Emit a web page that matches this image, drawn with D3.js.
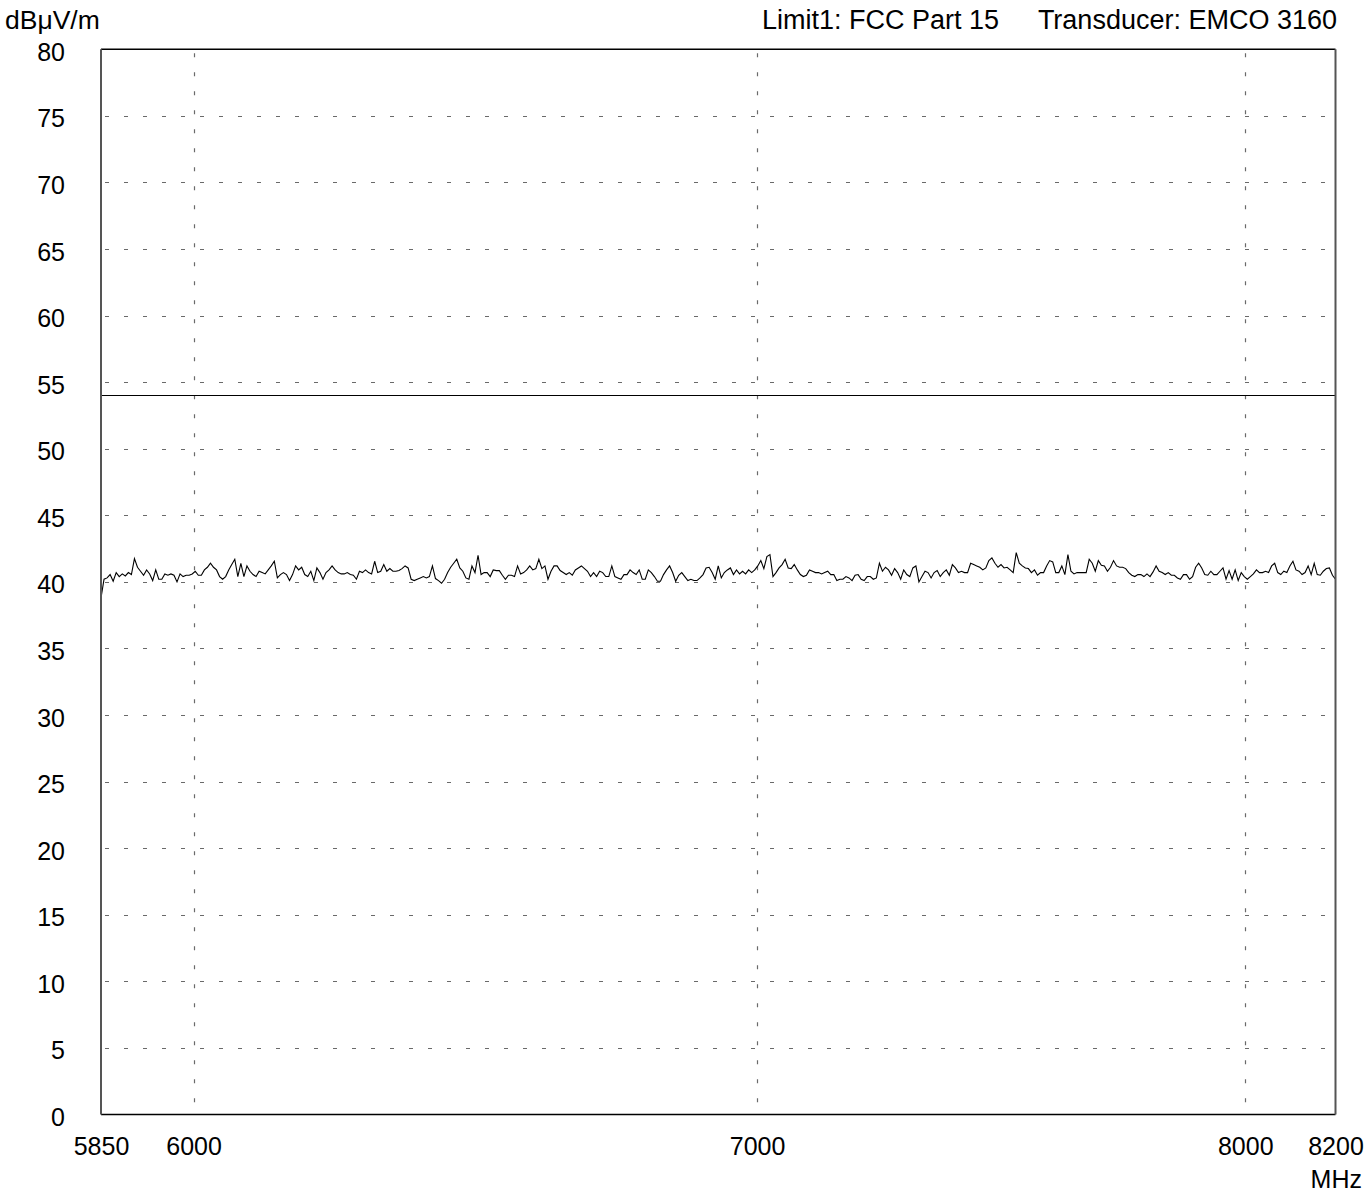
<!DOCTYPE html>
<html>
<head>
<meta charset="utf-8">
<script src="https://cdn.jsdelivr.net/npm/d3@7"></script>
<style>
  html, body { margin: 0; padding: 0; background: #fff; }
  svg { display: block; }
</style>
</head>
<body>
<svg id="chart" width="1366" height="1193"></svg>
<script>
// Radiated emission scan, 5850 - 8200 MHz, log frequency axis
const freqStart = 5850;
const freqStop = 8200;
const freqTicks = [5850, 6000, 7000, 8000, 8200];
const freqGrid = [6000, 7000, 8000];
const levelTicks = [0, 5, 10, 15, 20, 25, 30, 35, 40, 45, 50, 55, 60, 65, 70, 75, 80];
const levelGrid = [5, 10, 15, 20, 25, 30, 35, 40, 45, 50, 55, 60, 65, 70, 75];
const limitLevel = 54; // Limit1: FCC Part 15
const unitLabel = "dBμV/m";
const freqUnit = "MHz";
const headerLabels = ["Limit1: FCC Part 15", "Transducer: EMCO 3160"];

// Measured level (dBμV/m) at each sweep point, equally spaced on the log axis
const traceLevels = [
  38.8, 40.2, 40.3, 40.55, 40.05, 40.7, 40.4, 40.6, 40.45, 40.7,
  40.55, 41.75, 41.1, 40.8, 40.5, 40.9, 40.6, 40.1, 40.9, 40.2,
  40.2, 40.6, 40.5, 40.6, 40.5, 40.0, 40.6, 40.4, 40.5, 40.5,
  40.6, 40.8, 40.5, 40.5, 40.9, 41.1, 41.4, 41.1, 40.9, 40.4, 40.2,

  40.4, 40.9, 41.3, 41.7, 40.4, 41.4, 40.4, 41.2, 40.8, 40.55,
  40.4, 40.8, 40.7, 40.6, 40.9, 41.2, 41.55, 40.3, 40.55, 40.7,
  40.55, 40.1, 40.55, 41.2, 40.9, 41.1, 40.55, 40.4, 40.8, 40.1,
  41.05, 40.7, 40.2, 40.7, 40.9, 41.2, 40.9, 40.7, 40.6, 40.6, 40.7,

  40.55, 40.5, 40.2, 40.8, 40.7, 40.9, 40.7, 40.6, 41.55, 40.7,
  40.8, 41.3, 40.8, 41.0, 40.8, 40.8, 40.85, 41.0, 41.2, 41.05,
  40.2, 40.1, 40.2, 40.3, 40.4, 40.3, 40.4, 41.2, 40.25, 40.1,
  39.9, 40.2, 40.7, 41.1, 41.4, 41.7, 41.05, 40.8, 40.3, 40.2, 41.2,

  40.7, 42.0, 40.55, 40.7, 40.7, 40.4, 40.9, 40.85, 40.85, 40.5,
  40.2, 40.5, 40.5, 40.4, 41.2, 40.6, 40.7, 40.9, 41.2, 40.9,
  41.0, 41.7, 41.0, 41.2, 40.2, 40.8, 41.2, 41.2, 40.85, 40.7,
  40.55, 40.7, 40.5, 40.9, 41.05, 41.2, 41.0, 40.8, 40.4, 40.7, 40.4,

  40.8, 40.7, 40.4, 40.4, 41.2, 40.4, 40.3, 40.2, 40.55, 40.55,
  40.9, 40.7, 40.55, 40.9, 40.2, 40.2, 40.9, 40.7, 40.4, 40.05,
  40.05, 40.55, 40.9, 41.2, 40.7, 40.05, 40.5, 40.7, 40.4, 40.1,
  40.2, 40.1, 40.1, 40.3, 40.55, 41.05, 41.1, 40.7, 40.2, 41.2, 40.3,

  40.7, 40.9, 41.05, 40.55, 40.9, 40.6, 40.8, 40.6, 40.9, 40.7,
  40.9, 41.2, 41.6, 41.0, 41.9, 42.05, 40.4, 40.7, 41.05, 41.3,
  41.7, 41.05, 41.0, 41.3, 40.9, 40.55, 40.4, 40.5, 40.9, 40.8,
  40.7, 40.7, 40.6, 40.7, 40.8, 40.55, 40.55, 40.1, 40.2, 40.2, 40.4,

  40.3, 40.1, 40.5, 40.55, 40.2, 40.1, 40.4, 40.4, 40.2, 40.3,
  41.4, 40.8, 41.1, 40.9, 40.5, 41.0, 40.7, 40.2, 40.9, 40.55,
  40.4, 41.05, 41.2, 40.0, 40.4, 40.8, 40.7, 40.3, 40.7, 40.85,
  40.4, 40.7, 40.9, 40.5, 41.3, 41.05, 40.7, 40.8, 40.7, 40.7, 41.4,

  41.3, 41.2, 41.1, 40.9, 41.05, 41.6, 41.8, 41.4, 41.1, 41.3,
  41.05, 41.1, 40.9, 40.7, 42.2, 41.4, 41.2, 41.05, 41.0, 40.7,
  40.9, 40.5, 40.7, 40.7, 41.2, 41.6, 41.5, 40.7, 40.7, 41.2,
  40.55, 42.05, 40.8, 40.6, 40.7, 40.7, 40.7, 40.7, 41.7, 41.4, 40.8,

  41.6, 41.25, 41.2, 40.8, 41.1, 41.6, 41.2, 41.1, 41.1, 41.0,
  40.7, 40.5, 40.4, 40.55, 40.55, 40.4, 40.6, 40.4, 40.75, 41.2,
  40.8, 40.7, 40.55, 40.7, 40.5, 40.5, 40.3, 40.2, 40.55, 40.55,
  40.2, 40.4, 41.1, 41.4, 41.05, 40.55, 40.5, 40.8, 40.55, 40.55, 40.8,

  41.05, 40.2, 40.85, 40.2, 40.9, 40.1, 40.7, 40.4, 40.2, 40.4,
  40.6, 40.9, 40.7, 40.7, 40.8, 40.7, 41.2, 41.4, 40.7, 40.55,
  40.8, 40.7, 41.2, 41.55, 40.9, 40.8, 40.55, 40.7, 41.2, 40.55,
  41.4, 40.55, 40.5, 40.8, 41.0, 41.05, 40.5, 40.2
];

// sweep frequencies for the trace points (log-spaced sweep)
const sweepFreqs = d3.range(traceLevels.length).map(i =>
  freqStart * Math.pow(freqStop / freqStart, i / (traceLevels.length - 1)));

const FONT = "'Liberation Sans', Arial, Helvetica, sans-serif";
const plot = { left: 101, right: 1335.5, top: 49.3, bottom: 1114.5 };

const svg = d3.select("#chart");

const x = d3.scaleLog().domain([freqStart, freqStop]).range([plot.left, plot.right]);
const y = d3.scaleLinear().domain([0, 80]).range([plot.bottom, plot.top]);

// dotted grid
const grid = svg.append("g").attr("stroke", "#6a6a6a").attr("stroke-width", 1.2)
  .attr("stroke-dasharray", "4 15");
grid.selectAll("line.h").data(levelGrid).join("line").attr("class", "h")
  .attr("x1", plot.left + 4).attr("x2", plot.right)
  .attr("y1", d => Math.round(y(d)) + 0.5).attr("y2", d => Math.round(y(d)) + 0.5);
grid.selectAll("line.v").data(freqGrid).join("line").attr("class", "v")
  .attr("y1", plot.top + 4).attr("y2", plot.bottom)
  .attr("x1", d => Math.round(x(d)) + 0.5).attr("x2", d => Math.round(x(d)) + 0.5);

// limit line
svg.append("path")
  .datum([freqStart, freqStop])
  .attr("fill", "none").attr("stroke", "#000").attr("stroke-width", 1.2)
  .attr("d", d3.line().x(d => x(d)).y(() => Math.round(y(limitLevel)) + 0.5));

// measured trace
svg.append("path")
  .datum(traceLevels)
  .attr("fill", "none").attr("stroke", "#000").attr("stroke-width", 1.1)
  .attr("stroke-linejoin", "miter")
  .attr("d", d3.line().x((d, i) => x(sweepFreqs[i])).y(d => y(d)));

// frame
const frame = svg.append("g").attr("fill", "none");
frame.append("line").attr("x1", plot.left).attr("x2", plot.right)
  .attr("y1", plot.top).attr("y2", plot.top).attr("stroke", "#000").attr("stroke-width", 1.5);
frame.append("line").attr("x1", plot.left).attr("x2", plot.right)
  .attr("y1", plot.bottom).attr("y2", plot.bottom).attr("stroke", "#000").attr("stroke-width", 1.5);
frame.append("line").attr("x1", plot.left).attr("x2", plot.left)
  .attr("y1", plot.top).attr("y2", plot.bottom).attr("stroke", "#555").attr("stroke-width", 2);
frame.append("line").attr("x1", plot.right).attr("x2", plot.right)
  .attr("y1", plot.top).attr("y2", plot.bottom).attr("stroke", "#555").attr("stroke-width", 2);

// level axis labels
const gy = svg.append("g").attr("transform", "translate(65,0)")
  .call(d3.axisLeft(y).tickValues(levelTicks).tickSize(0).tickPadding(0).tickFormat(d3.format("d")));
gy.select(".domain").remove();
gy.selectAll("text").attr("dy", null).attr("y", 11)
  .attr("font-family", FONT).attr("font-size", 25).attr("fill", "#000");

// frequency axis labels
const gx = svg.append("g").attr("transform", `translate(0,${plot.bottom})`)
  .call(d3.axisBottom(x).tickValues(freqTicks).tickSize(0).tickPadding(0).tickFormat(d3.format("d")));
gx.select(".domain").remove();
gx.selectAll("text").attr("dy", null).attr("y", 40.5)
  .attr("font-family", FONT).attr("font-size", 25).attr("fill", "#000");

// unit labels and header
const txt = svg.append("g").attr("font-family", FONT).attr("fill", "#000");
txt.append("text").attr("x", 5).attr("y", 29).attr("font-size", 26.5).text(unitLabel);
txt.append("text").attr("x", 1362).attr("y", 1188).attr("font-size", 25)
  .attr("text-anchor", "end").text(freqUnit);
txt.append("text").attr("x", 762).attr("y", 29).attr("font-size", 27).text(headerLabels[0]);
txt.append("text").attr("x", 1337).attr("y", 29).attr("font-size", 27)
  .attr("text-anchor", "end").text(headerLabels[1]);
</script>
</body>
</html>
